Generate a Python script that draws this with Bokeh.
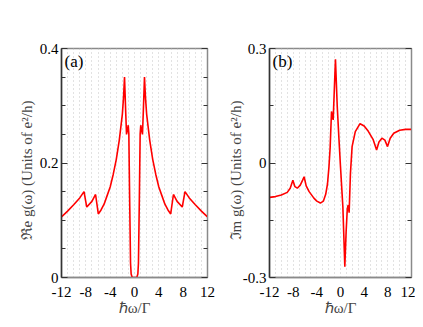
from bokeh.plotting import figure
from bokeh.layouts import row
from bokeh.models import FixedTicker, LinearAxis, Label, Range1d
from bokeh.embed import file_html
from bokeh.resources import INLINE

# Panel (a): real part
re_w = [-12, -11, -10, -9, -8.3, -7.85, -7.0, -6.4, -5.95, -5.5, -5.0, -4.5, -4.0, -3.5, -3.0,
        -2.5, -2.0, -1.8, -1.64, -1.45, -1.31, -1.15, -1.03, -0.93, -0.8, -0.65, -0.55, -0.4,
        -0.2, 0.0, 0.2, 0.4, 0.55, 0.65, 0.8, 0.93, 1.03, 1.15, 1.31, 1.45, 1.64, 1.8, 2.0,
        2.5, 3.0, 3.5, 4.0, 4.5, 5.0, 5.5, 5.95, 6.4, 7.0, 7.85, 8.3, 9, 10, 11, 12]
re_g = [0.106, 0.116, 0.127, 0.139, 0.150, 0.123, 0.133, 0.145, 0.111, 0.118, 0.128, 0.143,
        0.158, 0.180, 0.206, 0.240, 0.285, 0.315, 0.350, 0.290, 0.250, 0.258, 0.266, 0.251,
        0.140, 0.025, 0.006, 0.001, 0.0, 0.0, 0.0, 0.001, 0.006, 0.025, 0.140, 0.251, 0.266,
        0.258, 0.250, 0.290, 0.350, 0.315, 0.285, 0.240, 0.206, 0.180, 0.158, 0.143, 0.128,
        0.118, 0.111, 0.145, 0.133, 0.123, 0.150, 0.139, 0.127, 0.116, 0.106]

# Panel (b): imaginary part
im_w = [-12, -11, -10, -9, -8.5, -8.05, -7.7, -7.3, -6.8, -6.4, -6.15, -5.8, -5.3, -4.5, -4.0,
        -3.4, -2.9, -2.5, -2.2, -1.95, -1.75, -1.52, -1.38, -1.24, -1.05, -0.85, -0.55, -0.25,
        0.0, 0.4, 0.73, 0.95, 1.15, 1.30, 1.46, 1.68, 1.96, 2.5, 3.3, 4.0, 4.7, 5.5, 6.1, 6.5,
        7.0, 7.5, 7.95, 8.4, 9.0, 10.0, 11.0, 12.0]
im_g = [-0.090, -0.088, -0.084, -0.077, -0.066, -0.045, -0.062, -0.066, -0.058, -0.045, -0.036,
        -0.060, -0.075, -0.092, -0.100, -0.105, -0.100, -0.082, -0.055, -0.010, 0.040, 0.135,
        0.122, 0.113, 0.190, 0.272, 0.148, 0.060, -0.010, -0.115, -0.272, -0.180, -0.120,
        -0.110, -0.130, -0.027, 0.043, 0.082, 0.103, 0.097, 0.083, 0.062, 0.034, 0.055, 0.065,
        0.060, 0.043, 0.065, 0.078, 0.086, 0.088, 0.088]

x_ticks = [-12, -8, -4, 0, 4, 8, 12]
x_tick_labels = ["-12", "-8", "-4", "0", "4", "8", "12"]
a_ticks = [0, 0.2, 0.4]
a_tick_labels = ["0", "0.2", "0.4"]
a_minor = [0.05, 0.1, 0.15, 0.25, 0.3, 0.35]
b_ticks = [-0.3, 0, 0.3]
b_tick_labels = ["-0.3", "0", "0.3"]
b_minor = [-0.15, 0.15]
grid_x = list(range(-12, 13))

FONT = "Liberation Serif"
GRAY = "#8a8a8a"
PAD = "\u00a0" * 4


def make_panel(xs, ys, yr, yt, ytl, ymin, ylabel, tag, width, left, right, lab_off):
    p = figure(width=width, height=319, output_backend="svg", toolbar_location=None,
               x_range=Range1d(-12, 12), y_range=Range1d(*yr),
               min_border_left=left, min_border_right=right, min_border_top=48,
               min_border_bottom=42, outline_line_color=GRAY, outline_line_width=1.5,
               background_fill_color="white", border_fill_color="white")
    p.line(xs, ys, line_color="#ff0000", line_width=1.6)

    p.xgrid.ticker = FixedTicker(ticks=grid_x)
    p.xgrid.grid_line_color = "#c4c4c4"
    p.xgrid.grid_line_dash = "1 3"
    p.xgrid.grid_line_width = 1
    p.ygrid.grid_line_color = None

    xa = p.xaxis[0]
    xa.ticker = FixedTicker(ticks=x_ticks)
    xa.major_label_overrides = {t: l for t, l in zip(x_ticks, x_tick_labels)}
    xa.major_tick_line_color = None
    xa.minor_tick_line_color = None
    xa.axis_line_color = GRAY
    xa.axis_line_width = 1.5
    xa.major_label_standoff = 3
    xa.major_label_text_font = FONT
    xa.major_label_text_font_size = "15px"
    xa.major_label_text_color = "black"
    xa.axis_label = "ℏω/Γ"
    xa.axis_label_text_font = FONT
    xa.axis_label_text_font_size = "15px"
    xa.axis_label_text_font_style = "normal"
    xa.axis_label_standoff = 0

    ya = p.yaxis[0]
    ya.ticker = FixedTicker(ticks=yt, minor_ticks=ymin)
    ya.major_label_overrides = {t: l for t, l in zip(yt, ytl)}
    ya.major_tick_in = 6
    ya.major_tick_out = 0
    ya.minor_tick_in = 4
    ya.minor_tick_out = 0
    ya.major_tick_line_color = "#333333"
    ya.minor_tick_line_color = "#333333"
    ya.axis_line_color = "#333333"
    ya.axis_line_width = 1.5
    ya.major_label_standoff = 3
    ya.major_label_text_font = FONT
    ya.major_label_text_font_size = "15px"
    ya.major_label_text_color = "black"
    ya.axis_label = ylabel + PAD
    ya.axis_label_text_font = FONT
    ya.axis_label_text_font_size = "15px"
    ya.axis_label_text_font_style = "normal"
    ya.axis_label_standoff = lab_off

    ra = LinearAxis(ticker=FixedTicker(ticks=yt, minor_ticks=ymin),
                    major_label_overrides={t: "" for t in yt}, major_label_standoff=0,
                    major_tick_in=6, major_tick_out=0, minor_tick_in=4, minor_tick_out=0,
                    axis_line_color=GRAY, major_tick_line_color="#333333",
                    minor_tick_line_color="#333333")
    p.add_layout(ra, "right")

    p.add_layout(Label(x=3, y=226, x_units="screen", y_units="screen", text=tag,
                       text_font=FONT, text_font_size="17px", text_baseline="top",
                       text_color="black"))
    return p


pa = make_panel(re_w, re_g, (0, 0.4), a_ticks, a_tick_labels, a_minor,
                "ℜe g(ω) (Units of e²/h)", "(a)", 215, 61, 8, 2)
pb = make_panel(im_w, im_g, (-0.3, 0.3), b_ticks, b_tick_labels, b_minor,
                "ℑm g(ω) (Units of e²/h)", "(b)", 200, 54, 4, -4)

layout = row(pa, pb, spacing=0)
open("out.html", "w").write(file_html(layout, INLINE))
